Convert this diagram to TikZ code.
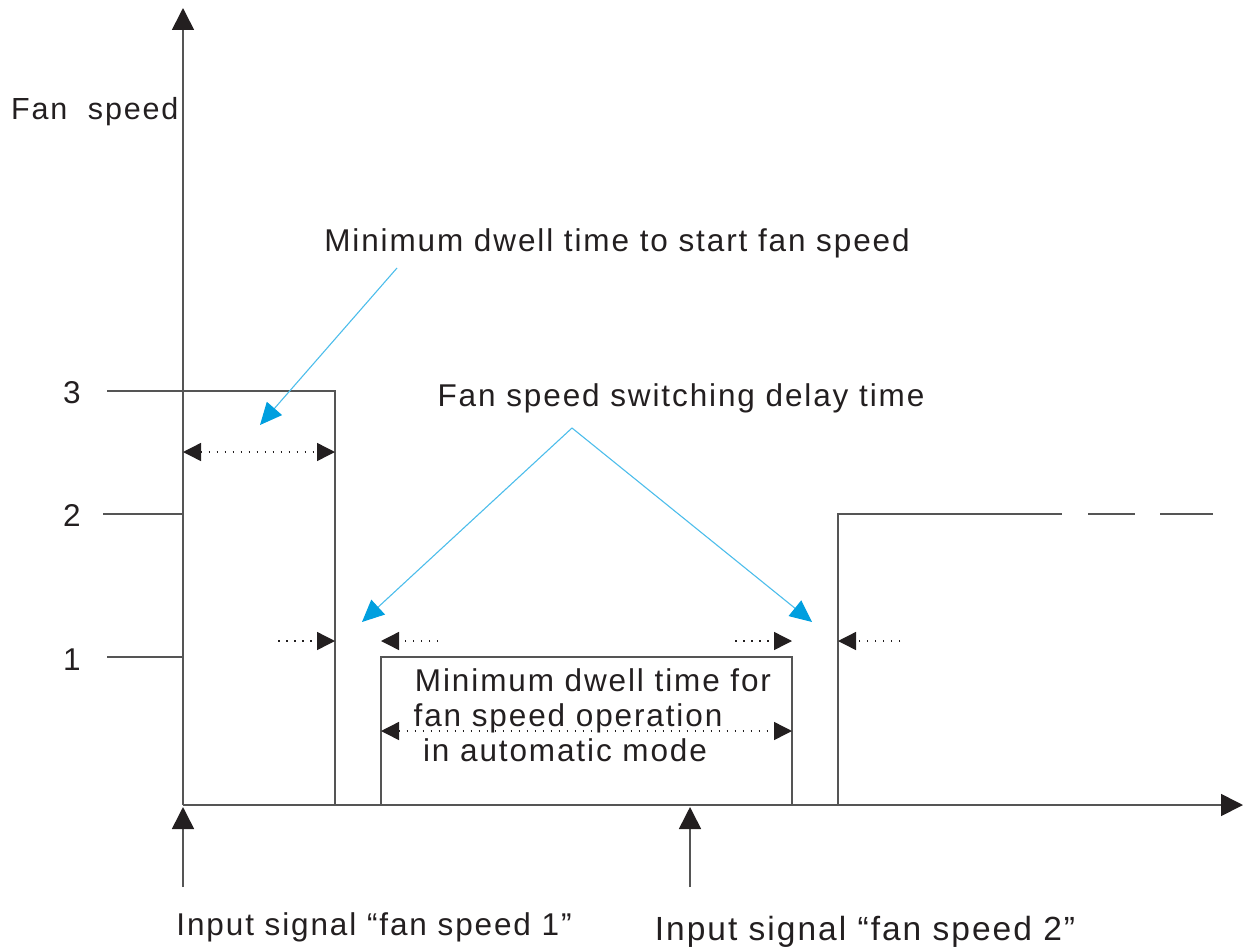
\documentclass[tikz,border=0pt]{standalone}
\usepackage{fontspec}
\setmainfont{Liberation Sans}[LetterSpace=6]
\usetikzlibrary{arrows.meta}
\definecolor{lineg}{HTML}{555555}
\definecolor{headk}{HTML}{231F20}
\definecolor{bluel}{HTML}{4CBDEB}
\definecolor{blueh}{HTML}{009FDF}
\definecolor{txt}{HTML}{231F20}
\tikzset{
  axis/.style={draw=lineg, line width=1.6pt, -{Triangle[length=22pt,width=22pt,fill=headk,color=headk]}},
  sig/.style={draw=lineg, line width=1.6pt},
  dimline/.style={draw=headk, line width=1.4pt, dash pattern=on 1.5pt off 6.5pt},
  dimboth/.style={dimline, {Triangle[length=18pt,width=18pt,fill=headk,color=headk]}-{Triangle[length=18pt,width=18pt,fill=headk,color=headk]}},
  dimright/.style={dimline, -{Triangle[length=18pt,width=18pt,fill=headk,color=headk]}},
  callout/.style={draw=bluel, line width=1.1pt, -{Triangle[length=22pt,width=20pt,fill=blueh,color=blueh]}},
  lbl/.style={text=txt, font=\fontsize{31.5}{37}\selectfont, inner sep=0pt, anchor=base},
}
\begin{document}
\begin{tikzpicture}[x=1pt,y=-1pt]
\useasboundingbox (0,0) rectangle (1246,947);
% axes
\coordinate (O) at (183,805);
\coordinate (Ytop) at (183,8);
\coordinate (Xend) at (1243,805);
\draw[axis] (O) -- (Ytop);
\draw[axis] (O) -- (Xend);
% input signal arrows
\coordinate (s1a) at (183,887);
\coordinate (s1b) at (183,807);
\coordinate (s2a) at (690,887);
\coordinate (s2b) at (690,807);
\draw[axis] (s1a) -- (s1b);
\draw[axis] (s2a) -- (s2b);
% level ticks
\coordinate (t3) at (107,391);
\coordinate (t2) at (103,514);
\coordinate (t1) at (107,657);
\coordinate (y2) at (183,514);
\coordinate (y1) at (183,657);
\draw[sig] (t2) -- (y2);
\draw[sig] (t1) -- (y1);
% signal
\coordinate (a1) at (335,391);
\coordinate (a2) at (335,805);
\coordinate (b1) at (381,805);
\coordinate (b2) at (381,657);
\coordinate (c1) at (792,657);
\coordinate (c2) at (792,805);
\coordinate (d1) at (838,805);
\coordinate (d2) at (838,514);
\coordinate (d3) at (1062,514);
\coordinate (e1) at (1088,514);
\coordinate (e2) at (1135,514);
\coordinate (f1) at (1160,514);
\coordinate (f2) at (1213,514);
\draw[sig] (t3) -- (a1) -- (a2);
\draw[sig] (b1) -- (b2) -- (c1) -- (c2);
\draw[sig] (d1) -- (d2) -- (d3);
\draw[sig] (e1) -- (e2);
\draw[sig] (f1) -- (f2);
% labels
\node[lbl] (l3) at (72,403) {3};
\node[lbl] (l2) at (72,526) {2};
\node[lbl] (l1) at (72,670) {1};
\node[lbl, anchor=base west, font=\fontsize{30.5}{36}\selectfont] (fs) at (11,120) {Fan\ \ speed};
\node[lbl] (tmin) at (617,251) {Minimum dwell time to start fan speed};
\node[lbl] (tsw) at (681,406) {Fan speed switching delay time};
\node[lbl] (tb1) at (593,691) {Minimum dwell time for};
\node[lbl] (tb2) at (568,726) {fan speed operation};
\node[lbl] (tb3) at (565,761) {in automatic mode};
\node[lbl] (in1) at (374,935) {Input signal “fan speed 1”};
\node[lbl, font=\fontsize{33.5}{39}\selectfont] (in2) at (865,940) {Input signal “fan speed 2”};
% dimension arrows
\coordinate (m1a) at (183,452);
\coordinate (m1b) at (335,452);
\draw[dimboth] (m1a) -- (m1b);
\coordinate (m2a) at (278,641);
\coordinate (m2b) at (335,641);
\draw[dimright] (m2a) -- (m2b);
\coordinate (m3a) at (438,641);
\coordinate (m3b) at (381,641);
\draw[dimright] (m3a) -- (m3b);
\coordinate (m4a) at (735,641);
\coordinate (m4b) at (792,641);
\draw[dimright] (m4a) -- (m4b);
\coordinate (m5a) at (900,641);
\coordinate (m5b) at (838,641);
\draw[dimright] (m5a) -- (m5b);
\coordinate (m6a) at (381,731);
\coordinate (m6b) at (792,731);
\draw[dimboth] (m6a) -- (m6b);
% callouts
\coordinate (p1) at (397,268);
\coordinate (p1e) at (260,425);
\draw[callout] (p1) -- (p1e);
\coordinate (p2) at (572,428);
\coordinate (p2l) at (362,622);
\coordinate (p2r) at (812,622);
\draw[callout] (p2) -- (p2l);
\draw[callout] (p2) -- (p2r);
\end{tikzpicture}
\end{document}
